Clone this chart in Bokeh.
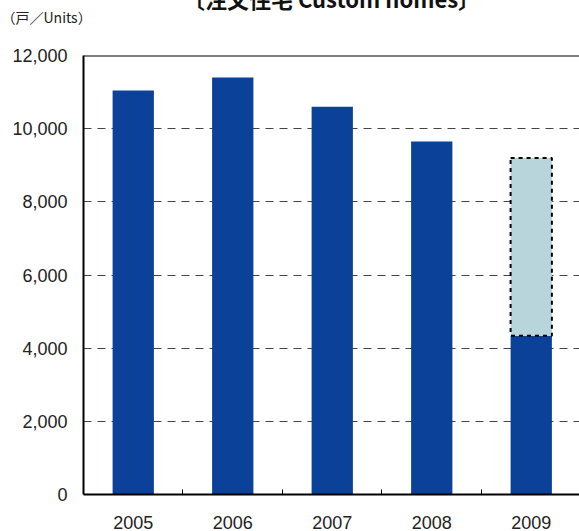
from bokeh.plotting import figure
from bokeh.models import Range1d, FixedTicker, NumeralTickFormatter, Span, Title
from bokeh.embed import file_html
from bokeh.resources import INLINE

years = ["2005", "2006", "2007", "2008", "2009"]
actual = [11040, 11400, 10600, 9650, 4340]
forecast_year = ["2009"]
forecast_bottom = [4340]
forecast_top = [9200]
y_ticks = [0, 2000, 4000, 6000, 8000, 10000, 12000]

pos = [i + 0.5 for i in range(len(years))]
fpos = [years.index(y) + 0.5 for y in forecast_year]

SHIFT = 40
p = figure(width=579, height=531 + SHIFT, output_backend="svg", toolbar_location=None,
           x_range=Range1d(0, 4.985), y_range=Range1d(0, 12000),
           min_border_left=83, min_border_right=0, min_border_top=55 + SHIFT, min_border_bottom=37)
p.margin = (-SHIFT, 0, 0, 0)
p.outline_line_color = None
p.background_fill_color = "white"
p.border_fill_color = "white"
p.title.text = ""

p.vbar(x=pos, top=actual, bottom=0, width=0.415, fill_color="#0c419a", line_color=None)
p.vbar(x=fpos, top=forecast_top, bottom=forecast_bottom, width=0.415,
       fill_color="#b9d5dc", line_color="black", line_width=2, line_dash="4 4")

p.add_layout(Span(location=12000, dimension="width", line_color="black", line_width=2))

# axes
p.yaxis.ticker = FixedTicker(ticks=y_ticks)
p.yaxis.formatter = NumeralTickFormatter(format="0,0")
p.yaxis.major_tick_out = 0
p.yaxis.major_tick_in = 0
p.yaxis.minor_tick_out = 0
p.yaxis.axis_line_width = 2
p.yaxis.axis_line_color = "black"
p.yaxis.major_label_standoff = 16
p.yaxis.major_label_text_font = "Liberation Sans"
p.yaxis.major_label_text_font_size = "18px"
p.yaxis.major_label_text_color = "#222222"

p.xaxis.ticker = FixedTicker(ticks=pos, minor_ticks=[1, 2, 3, 4])
p.xaxis.major_label_overrides = {pos[i]: years[i] for i in range(len(years))}
p.xaxis.major_tick_in = 0
p.xaxis.major_tick_out = 0
p.xaxis.minor_tick_in = 5
p.xaxis.minor_tick_out = 0
p.xaxis.minor_tick_line_color = "black"
p.xaxis.axis_line_width = 2
p.xaxis.axis_line_color = "black"
p.xaxis.major_label_standoff = 21
p.xaxis.major_label_text_font = "Liberation Sans"
p.xaxis.major_label_text_font_size = "18px"
p.xaxis.major_label_text_color = "#222222"

p.xgrid.grid_line_color = None
p.ygrid.ticker = FixedTicker(ticks=[2000, 4000, 6000, 8000, 10000])
p.ygrid.grid_line_color = "#444444"
p.ygrid.grid_line_dash = "8 6"
p.ygrid.grid_line_width = 1

p.add_layout(Title(text="（戸／Units）", align="left", offset=-82, standoff=58,
                   text_font="Noto Sans CJK JP", text_font_style="normal",
                   text_font_size="14px", text_color="#222222"), "above")
p.add_layout(Title(text="〔注文住宅 Custom homes〕", align="center", standoff=-77,
                   text_font="Noto Sans CJK JP", text_font_style="bold",
                   text_font_size="22px", text_color="#111111"), "above")

open("out.html", "w").write(file_html(p, INLINE))
